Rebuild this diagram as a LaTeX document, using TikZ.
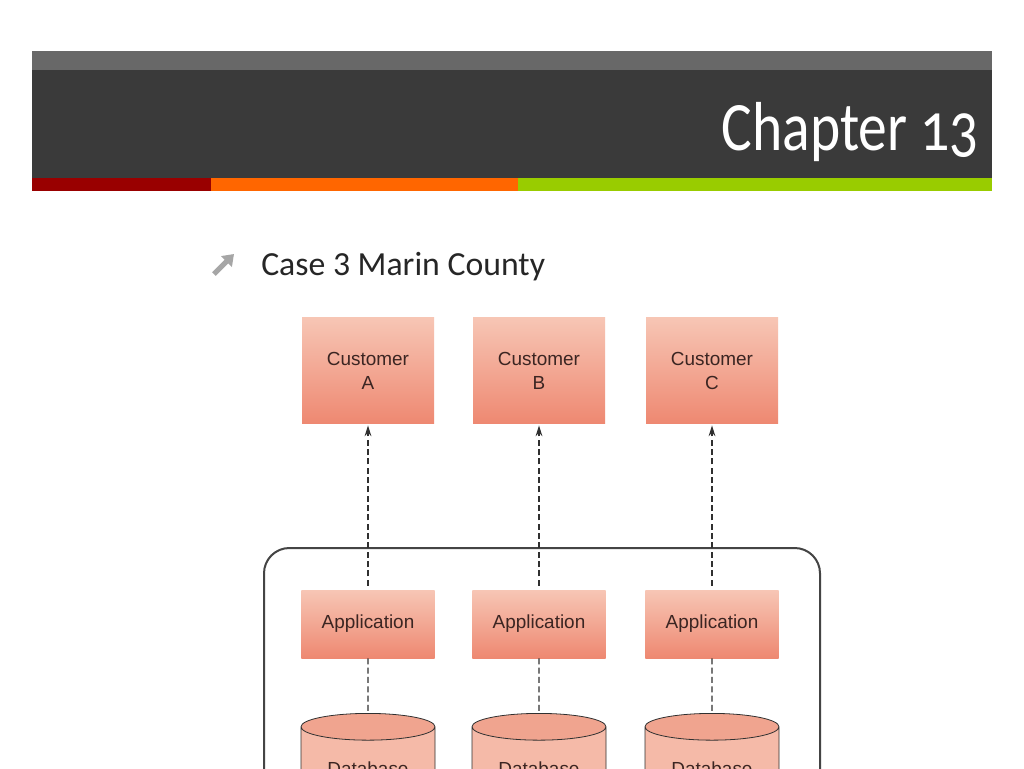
\documentclass[tikz,border=0pt]{standalone}
\usepackage{fontspec}
\setmainfont{Carlito}
\newfontfamily\labelfont{Liberation Sans}
\usetikzlibrary{arrows.meta,shapes.geometric,positioning}
\definecolor{topbar}{HTML}{686868}
\definecolor{headbar}{HTML}{3A3A3A}
\definecolor{stripered}{HTML}{990000}
\definecolor{stripeorange}{HTML}{FF6600}
\definecolor{stripegreen}{HTML}{99CC00}
\definecolor{salmonlight}{HTML}{F7C6B5}
\definecolor{salmondark}{HTML}{EE8871}
\definecolor{dbend}{HTML}{F0A48F}
\definecolor{dbbody}{HTML}{F5BAA8}
\definecolor{labeltext}{HTML}{3B2522}
\definecolor{bodytext}{HTML}{262626}
\definecolor{bulletgray}{HTML}{A6A6A6}
\definecolor{linegray}{HTML}{303030}
\definecolor{framegray}{HTML}{444444}
\tikzset{
	tierbox/.style={shading=axis,top color=salmonlight,bottom color=salmondark,draw=none,text=labeltext,font=\labelfont\fontsize{14.2}{18}\selectfont,align=center,inner sep=0pt},
	dbstore/.style={cylinder,shape border rotate=90,aspect=0.33,draw=linegray,line width=0.6pt,cylinder uses custom fill,cylinder end fill=dbend,cylinder body fill=dbbody,text=labeltext,font=\labelfont\fontsize{14.2}{18}\selectfont,minimum width=100.5pt,minimum height=72pt,inner sep=0pt},
	flowline/.style={draw=linegray,line width=1.1pt,dash pattern=on 4.5pt off 2.5pt}
}
\begin{document}
\begin{tikzpicture}[x=0.75pt,y=-0.75pt]
	\useasboundingbox (0,0) rectangle (1024,768);
	\clip (0,0) rectangle (1024,768);
	\fill[white] (0,0) rectangle (1024,768);
	\fill[topbar] (32,51) rectangle (992,70);
	\fill[headbar] (32,70) rectangle (992,178);
	\fill[stripered] (32,178) rectangle (211,191);
	\fill[stripeorange] (211,178) rectangle (518,191);
	\fill[stripegreen] (518,178) rectangle (992,191);
	\node[anchor=base east,text=white,inner sep=0pt,xscale=0.83,font=\fontsize{52}{52}\selectfont\addfontfeatures{Numbers=OldStyle}] (title) at (979,150) {Chapter 13};
	\draw[bulletgray,line width=3.8pt,-{Triangle[length=8pt,width=11pt]}] (214,274) -- (234,254);
	\node[anchor=base west,text=bodytext,inner sep=0pt,font=\fontsize{25.3}{25.3}\selectfont] (casetitle) at (261,275) {Case 3 Marin County};
	\node[draw=framegray,line width=1.5pt,rounded corners=19pt,anchor=north west,minimum width=417pt,minimum height=260pt] (platform) at (263,547) {};
	\foreach \col/\xc in {A/368,B/539,C/712} {
		\node[tierbox,minimum width=99pt,minimum height=80pt] (cust\col) at (\xc,370.5) {Customer\\\col};
		\node[tierbox,minimum width=100pt,minimum height=51pt] (app\col) at (\xc,624) {Application};
		\node[dbstore,anchor=north] (db\col) at (\xc,713) {Database};
		\draw[flowline,-{Stealth[length=8pt,width=5pt]},shorten <=3pt,shorten >=1pt] (app\col.north) -- (cust\col.south);
		\draw[flowline] (app\col.south) -- (db\col.top);
	}
\end{tikzpicture}
\end{document}
